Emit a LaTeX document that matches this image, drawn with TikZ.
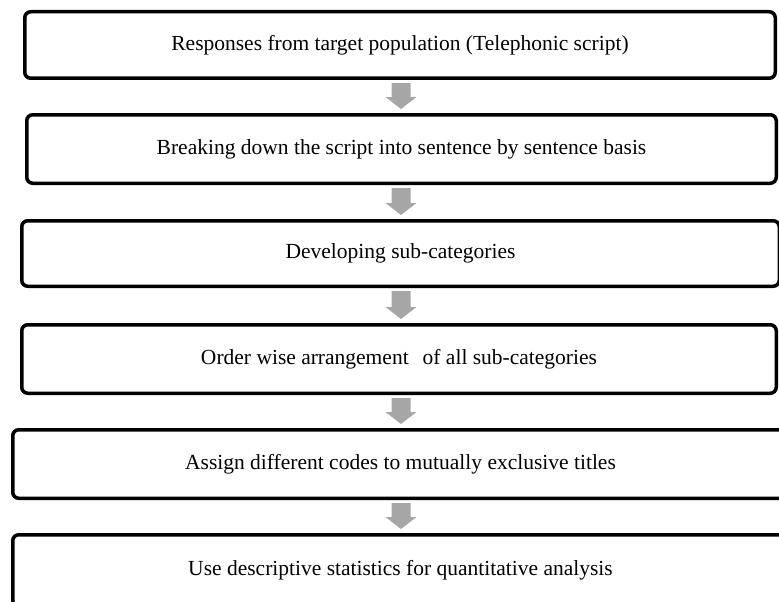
\documentclass[tikz,border=0pt]{standalone}
\usepackage{fontspec}
\setmainfont{Liberation Serif}
\usetikzlibrary{calc}
\definecolor{arrowgray}{HTML}{A6A6A6}
\tikzset{
  stepbox/.style={draw=black, line width=3.5pt, rounded corners=6pt,
    fill=white, inner sep=0pt, align=center,
    font=\fontsize{21.5}{24}\selectfont},
  flowarrow/.style={fill=arrowgray},
}
\begin{document}
\begin{tikzpicture}[x=1pt,y=-1pt]
  \useasboundingbox (0,0) rectangle (779,602);
  \clip (0,0) rectangle (779,602);
  \fill[white] (0,0) rectangle (779,602);

  % process steps (positions are outer-edge centres)
  \node[stepbox, minimum width=750.5pt, minimum height=66.5pt] (b1) at (400,45)
    {Responses from target population (Telephonic script)};
  \node[stepbox, minimum width=749.5pt, minimum height=68.5pt] (b2) at (401.5,149)
    {Breaking down the script into sentence by sentence basis};
  \node[stepbox, minimum width=757.5pt, minimum height=65.5pt] (b3) at (400.5,253.5)
    {Developing sub-categories};
  \node[stepbox, minimum width=754.5pt, minimum height=68.5pt] (b4) at (399,359)
    {Order wise arrangement\hspace{0.4em} of all sub-categories};
  \node[stepbox, minimum width=775.5pt, minimum height=68.5pt] (b5) at (400.5,464)
    {Assign different codes to mutually exclusive titles};
  \node[stepbox, minimum width=775.5pt, minimum height=71.5pt] (b6) at (400.5,570.5)
    {Use descriptive statistics for quantitative analysis};

  % grey block arrows between consecutive steps (let-values are canvas y, upward)
  \foreach \a/\b in {b1/b2,b2/b3,b3/b4,b4/b5,b5/b6} {
    \fill[flowarrow] let \p1=(\a.south), \p2=(\b.north) in
      (401-9.5,\y1-3) -- (401+9.5,\y1-3) -- (401+9.5,\y2+16)
      -- (401+15.5,\y2+16) -- (401,\y2+4) -- (401-15.5,\y2+16)
      -- (401-9.5,\y2+16) -- cycle;
  }
\end{tikzpicture}
\end{document}
